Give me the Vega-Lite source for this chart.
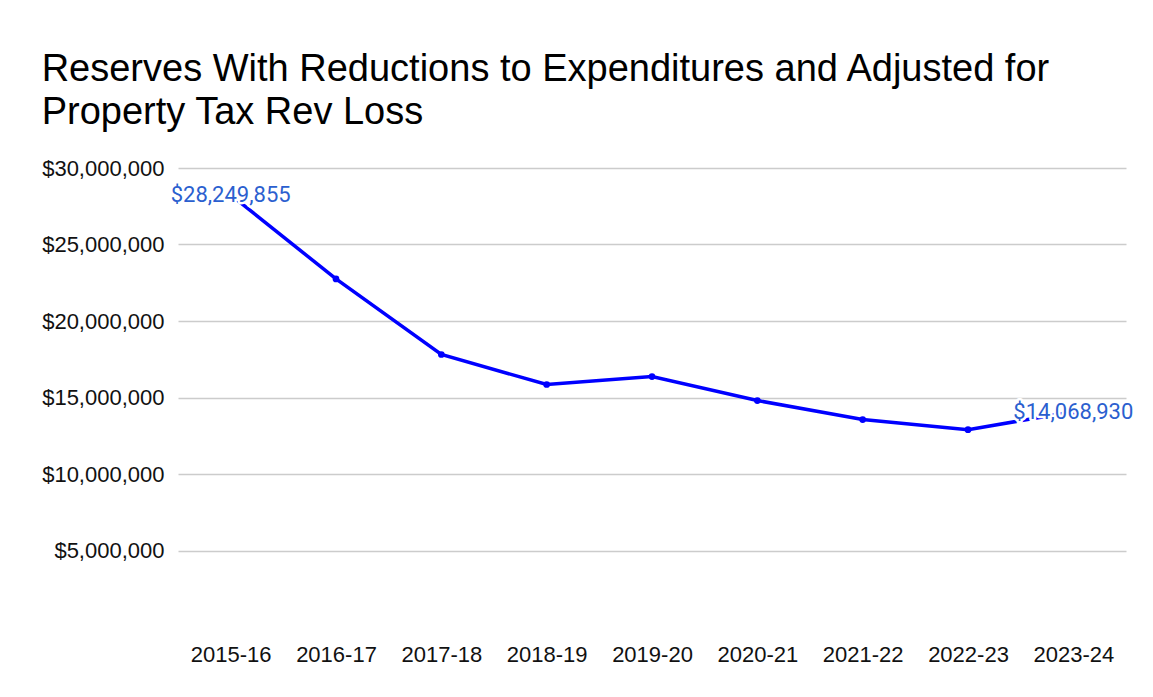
{
  "$schema": "https://vega.github.io/schema/vega-lite/v6.json",
  "width": 948,
  "height": 459,
  "padding": {"left": 41, "top": 51, "right": 25, "bottom": 10},
  "background": "#ffffff",
  "title": {
    "text": ["Reserves With Reductions to Expenditures and Adjusted for", "Property Tax Rev Loss"],
    "anchor": "start",
    "frame": "bounds",
    "font": "Liberation Sans",
    "fontSize": 38,
    "fontWeight": "normal",
    "color": "#000000",
    "lineHeight": 43,
    "offset": 25,
    "dx": 0
  },
  "config": {
    "view": {"stroke": null},
    "font": "Liberation Sans"
  },
  "data": {
    "values": [
      {"year": "2015-16", "reserves": 28249855},
      {"year": "2016-17", "reserves": 22750000},
      {"year": "2017-18", "reserves": 17810000},
      {"year": "2018-19", "reserves": 15850000},
      {"year": "2019-20", "reserves": 16370000},
      {"year": "2020-21", "reserves": 14800000},
      {"year": "2021-22", "reserves": 13560000},
      {"year": "2022-23", "reserves": 12900000},
      {"year": "2023-24", "reserves": 14068930}
    ]
  },
  "encoding": {
    "x": {
      "field": "year",
      "type": "ordinal",
      "sort": null,
      "scale": {"type": "point", "padding": 0.5},
      "axis": {
        "title": null,
        "labelAngle": 0,
        "domain": false,
        "ticks": false,
        "labelPadding": 17,
        "labelFont": "Liberation Sans",
        "labelFontSize": 22,
        "labelColor": "#111111"
      }
    },
    "y": {
      "field": "reserves",
      "type": "quantitative",
      "scale": {"domain": [0, 30000000], "nice": false, "zero": true},
      "axis": {
        "title": null,
        "values": [5000000, 10000000, 15000000, 20000000, 25000000, 30000000],
        "format": "$,.0f",
        "domain": false,
        "ticks": false,
        "labelPadding": 14,
        "labelFont": "Liberation Sans",
        "labelFontSize": 22,
        "labelColor": "#111111",
        "gridColor": "#cccccc",
        "gridWidth": 1.5
      }
    }
  },
  "layer": [
    {
      "mark": {"type": "line", "color": "#0000ff", "strokeWidth": 3.5}
    },
    {
      "mark": {"type": "point", "filled": true, "color": "#0000ff", "size": 45, "opacity": 1}
    },
    {
      "transform": [{"filter": "datum.year == '2015-16' || datum.year == '2023-24'"}],
      "mark": {"type": "text", "font": "Roboto", "fontSize": 22, "align": "center", "baseline": "middle", "color": "#ffffff", "stroke": "#ffffff", "strokeWidth": 5, "strokeJoin": "round"},
      "encoding": {"text": {"field": "reserves", "type": "quantitative", "format": "$,.0f"}}
    },
    {
      "transform": [{"filter": "datum.year == '2015-16' || datum.year == '2023-24'"}],
      "mark": {"type": "text", "font": "Roboto", "fontSize": 22, "align": "center", "baseline": "middle", "color": "#2b5fcf"},
      "encoding": {"text": {"field": "reserves", "type": "quantitative", "format": "$,.0f"}}
    }
  ]
}
